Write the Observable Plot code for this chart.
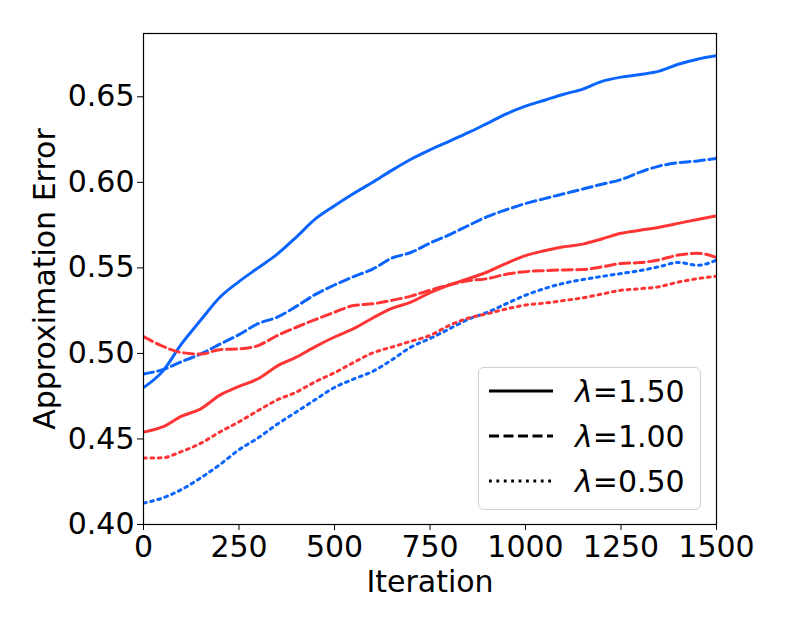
<!DOCTYPE html>
<html><head><meta charset="utf-8">
<script src="https://cdn.jsdelivr.net/npm/d3@7"></script>
<script src="https://cdn.jsdelivr.net/npm/@observablehq/plot@0.6"></script>
<style>
body{margin:0;background:#fff;}
#wrap{position:relative;width:789px;height:631px;font-family:"DejaVu Sans",sans-serif;color:#000;}
#legend{position:absolute;left:478px;top:367px;width:223px;height:143px;box-sizing:border-box;border:1px solid #d0d0d0;border-radius:6px;background:rgba(255,255,255,0.85);}
.row{position:absolute;left:0;height:40px;display:flex;align-items:center;font-size:30px;white-space:nowrap;}
.row svg{margin-left:10px;margin-right:22px;}
</style></head>
<body><div id="wrap"><div id="legend"></div></div>
<script>
const iterations = [0,50,100,150,200,250,300,350,400,450,500,550,600,650,700,750,800,850,900,950,1000,1050,1100,1150,1200,1250,1300,1350,1400,1450,1500];

const blueL150 = [0.480,0.4895,0.5057,0.5195,0.5328,0.542,0.550,0.558,0.568,0.5786,0.5863,0.5935,0.600,0.607,0.6135,0.619,0.624,0.629,0.6345,0.640,0.6445,0.648,0.6515,0.6545,0.659,0.6615,0.663,0.665,0.669,0.672,0.674];
const blueL100 = [0.488,0.4905,0.4952,0.4997,0.5054,0.511,0.5174,0.5212,0.5275,0.5345,0.540,0.5449,0.5493,0.5557,0.559,0.5645,0.5693,0.5747,0.580,0.584,0.5876,0.5905,0.5933,0.5961,0.5989,0.6016,0.606,0.6095,0.6115,0.6125,0.614];
const blueL050 = [0.4125,0.4155,0.4205,0.4273,0.435,0.4437,0.4506,0.4586,0.4658,0.473,0.4801,0.485,0.4895,0.4962,0.5037,0.5087,0.5143,0.5199,0.524,0.5291,0.534,0.5379,0.541,0.5432,0.545,0.5467,0.5484,0.5507,0.5532,0.5515,0.5545];
const redL150  = [0.454,0.457,0.4633,0.4676,0.4756,0.4807,0.4852,0.4926,0.4978,0.504,0.5096,0.5145,0.5207,0.5263,0.530,0.5355,0.540,0.5437,0.5476,0.5527,0.5572,0.560,0.5623,0.5639,0.5669,0.5702,0.572,0.5738,0.576,0.5783,0.5804];
const redL100  = [0.5098,0.5042,0.5005,0.4996,0.5022,0.5026,0.5046,0.5104,0.5153,0.5198,0.5241,0.528,0.529,0.531,0.5335,0.537,0.540,0.5425,0.5437,0.5463,0.5478,0.5484,0.5488,0.549,0.5506,0.5526,0.5531,0.5547,0.5575,0.5585,0.5561];
const redL050  = [0.4388,0.439,0.4427,0.4475,0.4541,0.460,0.4666,0.4728,0.4774,0.4835,0.4887,0.4947,0.5003,0.5037,0.5071,0.5105,0.5163,0.5206,0.5232,0.526,0.5283,0.5294,0.5309,0.5325,0.5347,0.5369,0.5378,0.539,0.5417,0.5437,0.5451];

const yTicks = [0.40,0.45,0.50,0.55,0.60,0.65];
const xTicks = [0,250,500,750,1000,1250,1500];
const legendLabels = ["1.50","1.00","0.50"];

const BLUE = "#0a64ff", RED = "#ff3535";
const DASH = {solid:null, dashed:"10,4.5", dotted:"2.8,4.6"};

const series = [
  {values: blueL150, color: BLUE, dash: DASH.solid},
  {values: redL150, color: RED, dash: DASH.solid},
  {values: blueL100, color: BLUE, dash: DASH.dashed},
  {values: redL100, color: RED, dash: DASH.dashed},
  {values: blueL050, color: BLUE, dash: DASH.dotted},
  {values: redL050, color: RED, dash: DASH.dotted}
];

const lineMarks = series.map(s => Plot.line(
  iterations.map((x, i) => ({x, y: s.values[i]})),
  {x: "x", y: "y", stroke: s.color, strokeWidth: 3, strokeDasharray: s.dash, strokeLinejoin: "round", curve: "monotone-x", clip: true}
));

const chart = Plot.plot({
  width: 789, height: 631,
  marginLeft: 143, marginRight: 73, marginTop: 33, marginBottom: 107,
  style: {fontFamily: "DejaVu Sans, sans-serif", color: "#000", background: "transparent", overflow: "visible"},
  x: {domain: [0, 1500]},
  y: {domain: [0.40, 0.687]},
  marks: [
    ...lineMarks,
    Plot.frame({stroke: "#000", strokeWidth: 1.2}),
    Plot.axisX({ticks: xTicks, tickFormat: d => String(d), tickSize: 6, tickPadding: 5, fontSize: 30, label: "Iteration", labelAnchor: "center", labelArrow: "none", labelOffset: 67}),
    Plot.axisY({ticks: yTicks, tickFormat: d3.format(".2f"), tickSize: 6, tickPadding: 3, fontSize: 30, label: "Approximation Error", labelAnchor: "center", labelArrow: "none", labelOffset: 110})
  ]
});
const wrap = document.getElementById("wrap");
wrap.insertBefore(chart, wrap.firstChild);

const legend = document.getElementById("legend");
const legendDash = [DASH.solid, DASH.dashed, DASH.dotted];
legendLabels.forEach((lab, i) => {
  const row = document.createElement("div");
  row.className = "row";
  row.style.top = (3 + i * 45) + "px";
  const dash = legendDash[i] ? ` stroke-dasharray="${legendDash[i]}"` : "";
  row.innerHTML = `<svg width="64" height="10"><line x1="0" y1="5" x2="64" y2="5" stroke="#000" stroke-width="2.8"${dash}/></svg><span><i>λ</i>=${lab}</span>`;
  legend.appendChild(row);
});
</script>
</body></html>
